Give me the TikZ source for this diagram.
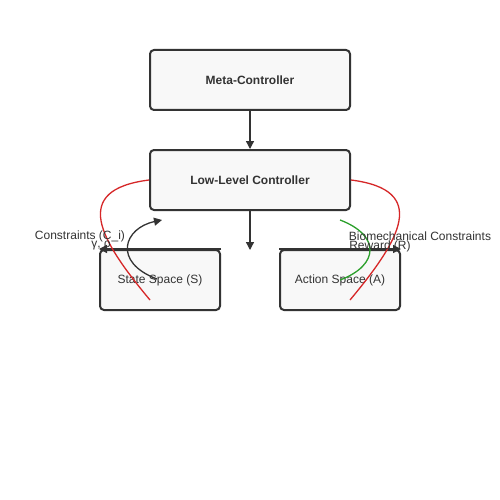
\documentclass[tikz,border=0pt]{standalone}
\usepackage{fontspec}
\setmainfont{Liberation Sans}
\usetikzlibrary{arrows.meta}
\definecolor{ink}{HTML}{333333}
\definecolor{boxfill}{HTML}{F8F8F8}
\definecolor{redc}{HTML}{D62728}
\definecolor{greenc}{HTML}{2CA02C}
\begin{document}
\begin{tikzpicture}[x=1pt,y=-1pt,
  box/.style={draw=ink,fill=boxfill,line width=2pt,rounded corners=4pt,text=ink,font=\fontsize{12}{14}\selectfont},
  conn/.style={draw=ink,line width=1.3pt,-{Triangle[length=8pt,width=8pt]}},
  lbl/.style={text=ink,font=\fontsize{12}{12}\selectfont,inner sep=0pt}]
\useasboundingbox (0,0) rectangle (500,500);
\fill[white] (0,0) rectangle (500,500);
\node[box,minimum width=200pt,minimum height=60pt,font=\fontsize{12}{14}\selectfont\bfseries] (meta) at (250,80) {Meta-Controller};
\node[box,minimum width=200pt,minimum height=60pt,font=\fontsize{12}{14}\selectfont\bfseries] (low) at (250,180) {Low-Level Controller};
\node[box,minimum width=120pt,minimum height=60pt] (state) at (160,280) {State Space (S)};
\node[box,minimum width=120pt,minimum height=60pt] (action) at (340,280) {Action Space (A)};
\coordinate (lowout) at (250,250);
\coordinate (bk1) at (157,279);
\coordinate (bk2) at (162,220);
\coordinate (rl1) at (150,300);
\coordinate (rr1) at (350,300);
\coordinate (g1) at (340,220);
\coordinate (g2) at (340,280);
\draw[conn] (meta.south) -- (low.north);
\draw[conn] (low.south) -- (lowout);
\draw[conn] (bk1) .. controls (112,262) and (124,228) .. (bk2);
\draw[conn] (state.north east) -- (state.north west);
\draw[conn] (action.north west) -- (action.north east);
\draw[redc,line width=1.3pt] (low.west) .. controls (70,190) and (100,240) .. (rl1);
\draw[redc,line width=1.3pt] (low.east) .. controls (430,190) and (400,240) .. (rr1);
\draw[greenc,line width=1.3pt] (g1) .. controls (380,235) and (380,265) .. (g2);
\node[lbl] (lc) at (80,236) {Constraints (C\_i)};
\node[lbl,anchor=east] (lg) at (111,246) {γ, ρ};
\node[lbl] (lb) at (420,236) {Biomechanical Constraints};
\node[lbl] (lr) at (380,246) {Reward (R)};
\end{tikzpicture}
\end{document}
